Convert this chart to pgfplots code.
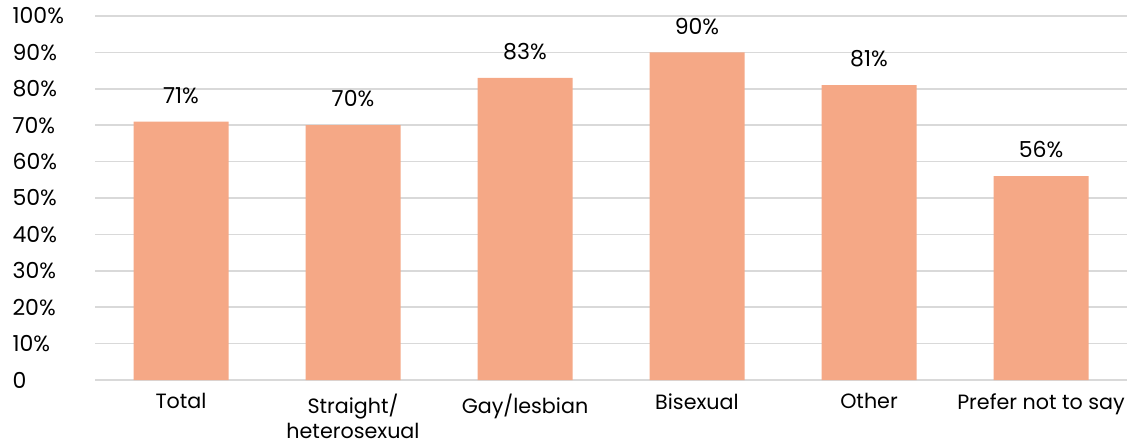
\documentclass[border=0pt]{standalone}
\usepackage{pgfplots}
\pgfplotsset{compat=1.18}
\usepackage{fontspec}
\setmainfont{Poppins}
\definecolor{barc}{HTML}{F5A886}
\definecolor{gridc}{HTML}{D9D9D9}
\begin{document}
\begin{tikzpicture}
\begin{axis}[
  scale only axis,
  width=774pt, height=273pt,
  xmin=-0.5, xmax=5.5,
  ymin=0, ymax=100,
  xtick={0,...,5},
  xticklabels={Total, {Straight/\\heterosexual}, Gay/lesbian, Bisexual, Other, Prefer not to say},
  ytick={0,10,...,100},
  yticklabels={0,10\%,20\%,30\%,40\%,50\%,60\%,70\%,80\%,90\%,100\%},
  ymajorgrids,
  major grid style={draw=gridc, line width=1.1pt},
  axis line style={draw=none},
  major tick style={draw=none},
  tick label style={font=\fontsize{16.5}{20}\selectfont},
  xticklabel style={align=center, anchor=north, yshift=-9pt, inner sep=1pt, font=\fontsize{15.5}{19}\selectfont},
  yticklabel style={anchor=west, xshift=-62pt, inner sep=0pt},
  clip=false,
  every node near coord/.append style={font=\fontsize{16.5}{18}\selectfont, anchor=south, yshift=10pt},
  nodes near coords={\pgfmathprintnumber[assume math mode=true]{\pgfplotspointmeta}\%},
]
\addplot[ybar, bar width=71.25pt, fill=barc, draw=none] coordinates {
  (0,71) (1,70) (2,83) (3,90) (4,81) (5,56)
};
\path (axis description cs:-0.09205,-0.1868) rectangle (axis description cs:1.00872,1.04396);
\end{axis}
\end{tikzpicture}
\end{document}
